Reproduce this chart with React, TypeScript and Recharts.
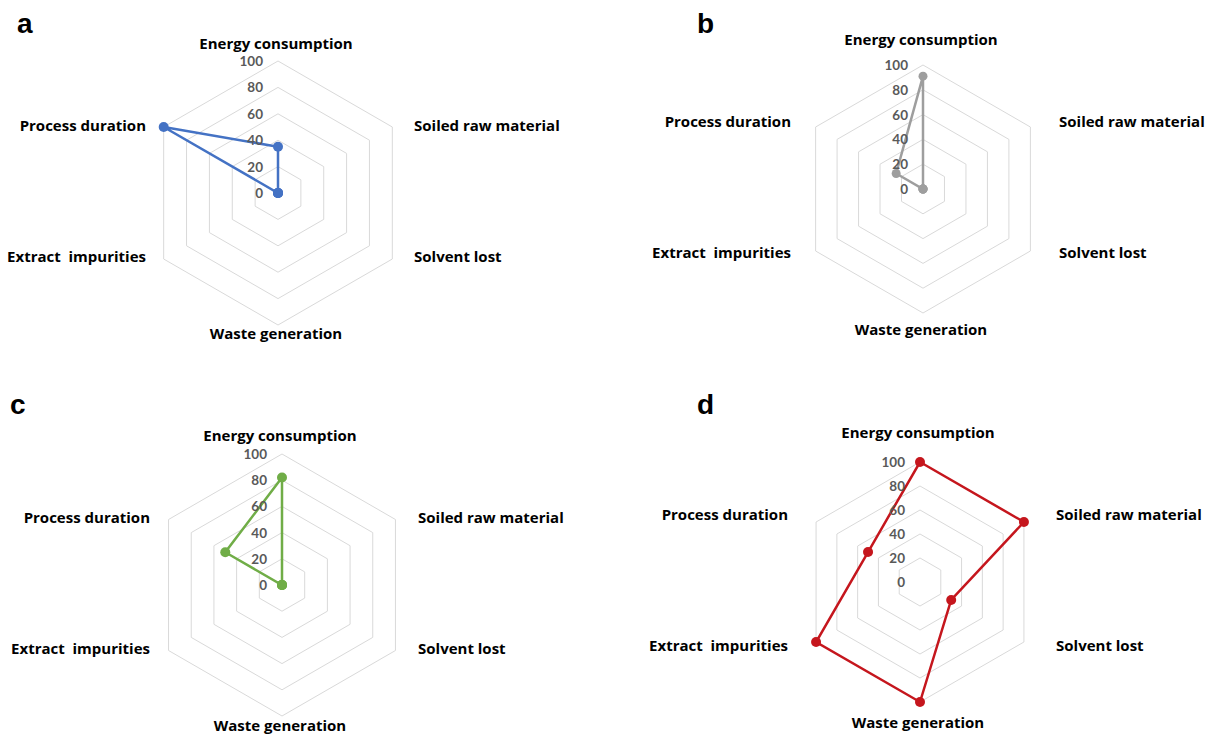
import React from 'react';
import { RadarChart, Radar, PolarGrid, PolarAngleAxis, PolarRadiusAxis } from 'recharts';

const categories = [
  'Energy consumption',
  'Soiled raw material',
  'Solvent lost',
  'Waste generation',
  'Extract  impurities',
  'Process duration',
];
const valuesA = [35, 0, 0, 0, 0, 100];
const valuesB = [91, 0, 0, 0, 0, 25];
const valuesC = [82, 0, 0, 0, 0, 50];
const valuesD = [100, 100, 30, 100, 100, 50];
const radiusTicks = [0, 20, 40, 60, 80, 100];
const panelLetters = ['a', 'b', 'c', 'd'];

const panels = [
  { values: valuesA, color: '#4472C4', left: 0, top: 0, cx: 278, cy: 193, r: 132, dot: 5 },
  { values: valuesB, color: '#9E9E9E', left: 605, top: 0, cx: 318, cy: 189, r: 124, dot: 4.5 },
  { values: valuesC, color: '#70AD47', left: 0, top: 368, cx: 282, cy: 217, r: 131, dot: 5 },
  { values: valuesD, color: '#C5161D', left: 605, top: 368, cx: 315, cy: 214, r: 120, dot: 5 },
];

const letterPos = [
  { x: 17, y: 33 },
  { x: 697, y: 33 },
  { x: 10, y: 414 },
  { x: 697, y: 414 },
];

const labelFont = '"Open Sans", Lato, sans-serif';
const tickFont = 'Lato, "Open Sans", sans-serif';

function makeAngleTick(cx: number, cy: number) {
  return (props: any) => {
    const { x, y, payload } = props;
    const dx = x - cx;
    const dy = y - cy;
    let tx: number;
    let ty: number;
    let anchor: 'start' | 'end' | 'middle';
    if (Math.abs(dx) < 1) {
      tx = cx - 2;
      anchor = 'middle';
      ty = dy < 0 ? cy - 150 : cy + 140;
    } else {
      anchor = dx > 0 ? 'start' : 'end';
      tx = dx > 0 ? cx + 136 : cx - 132;
      ty = dy < 0 ? cy - 68 : cy + 63;
    }
    return (
      <text
        x={tx}
        y={ty}
        textAnchor={anchor}
        dominantBaseline="central"
        fontFamily={labelFont}
        fontWeight={700}
        fontSize={15}
        fill="#000"
        style={{ whiteSpace: 'pre' }}
      >
        {payload.value}
      </text>
    );
  };
}

const radiusTick = (props: any) => {
  const { x, y, payload } = props;
  return (
    <text
      x={x - 15}
      y={y}
      textAnchor="end"
      dominantBaseline="central"
      fontFamily={tickFont}
      fontWeight={700}
      fontSize={13.5}
      fill="#595959"
    >
      {payload.value}
    </text>
  );
};

export default function App() {
  return (
    <div
      style={{
        position: 'absolute',
        left: 0,
        top: 0,
        width: 1211,
        height: 736,
        background: '#fff',
        overflow: 'hidden',
      }}
    >
      {panels.map((p, pi) => {
        const data = categories.map((c, i) => ({ category: c, value: p.values[i] }));
        return (
          <div key={pi} style={{ position: 'absolute', left: p.left, top: p.top, width: 606, height: 368 }}>
            <RadarChart
              width={606}
              height={368}
              data={data}
              cx={p.cx}
              cy={p.cy}
              outerRadius={p.r}
              innerRadius={0}
              startAngle={90}
              endAngle={-270}
              style={{ overflow: 'visible' }}
            >
              <PolarGrid gridType="polygon" radialLines={false} stroke="#D9D9D9" strokeWidth={1} />
              <PolarAngleAxis
                dataKey="category"
                tick={makeAngleTick(p.cx, p.cy)}
                tickLine={false}
                axisLine={false}
              />
              <PolarRadiusAxis
                angle={90}
                domain={[0, 100]}
                ticks={radiusTicks as any}
                tickCount={6}
                axisLine={false}
                tickLine={false}
                tick={radiusTick}
              />
              <Radar
                dataKey="value"
                stroke={p.color}
                strokeWidth={2.5}
                fill="none"
                fillOpacity={0}
                dot={{ r: p.dot, fill: p.color, stroke: p.color, strokeWidth: 0, fillOpacity: 1 }}
                isAnimationActive={false}
              />
            </RadarChart>
          </div>
        );
      })}
      <svg
        width={1211}
        height={736}
        style={{ position: 'absolute', left: 0, top: 0, pointerEvents: 'none' }}
      >
        {panelLetters.map((l, i) => (
          <text
            key={l}
            x={letterPos[i].x}
            y={letterPos[i].y}
            fontFamily='"Liberation Sans", Arial, sans-serif'
            fontWeight={700}
            fontSize={28}
            fill="#000"
          >
            {l}
          </text>
        ))}
      </svg>
    </div>
  );
}
